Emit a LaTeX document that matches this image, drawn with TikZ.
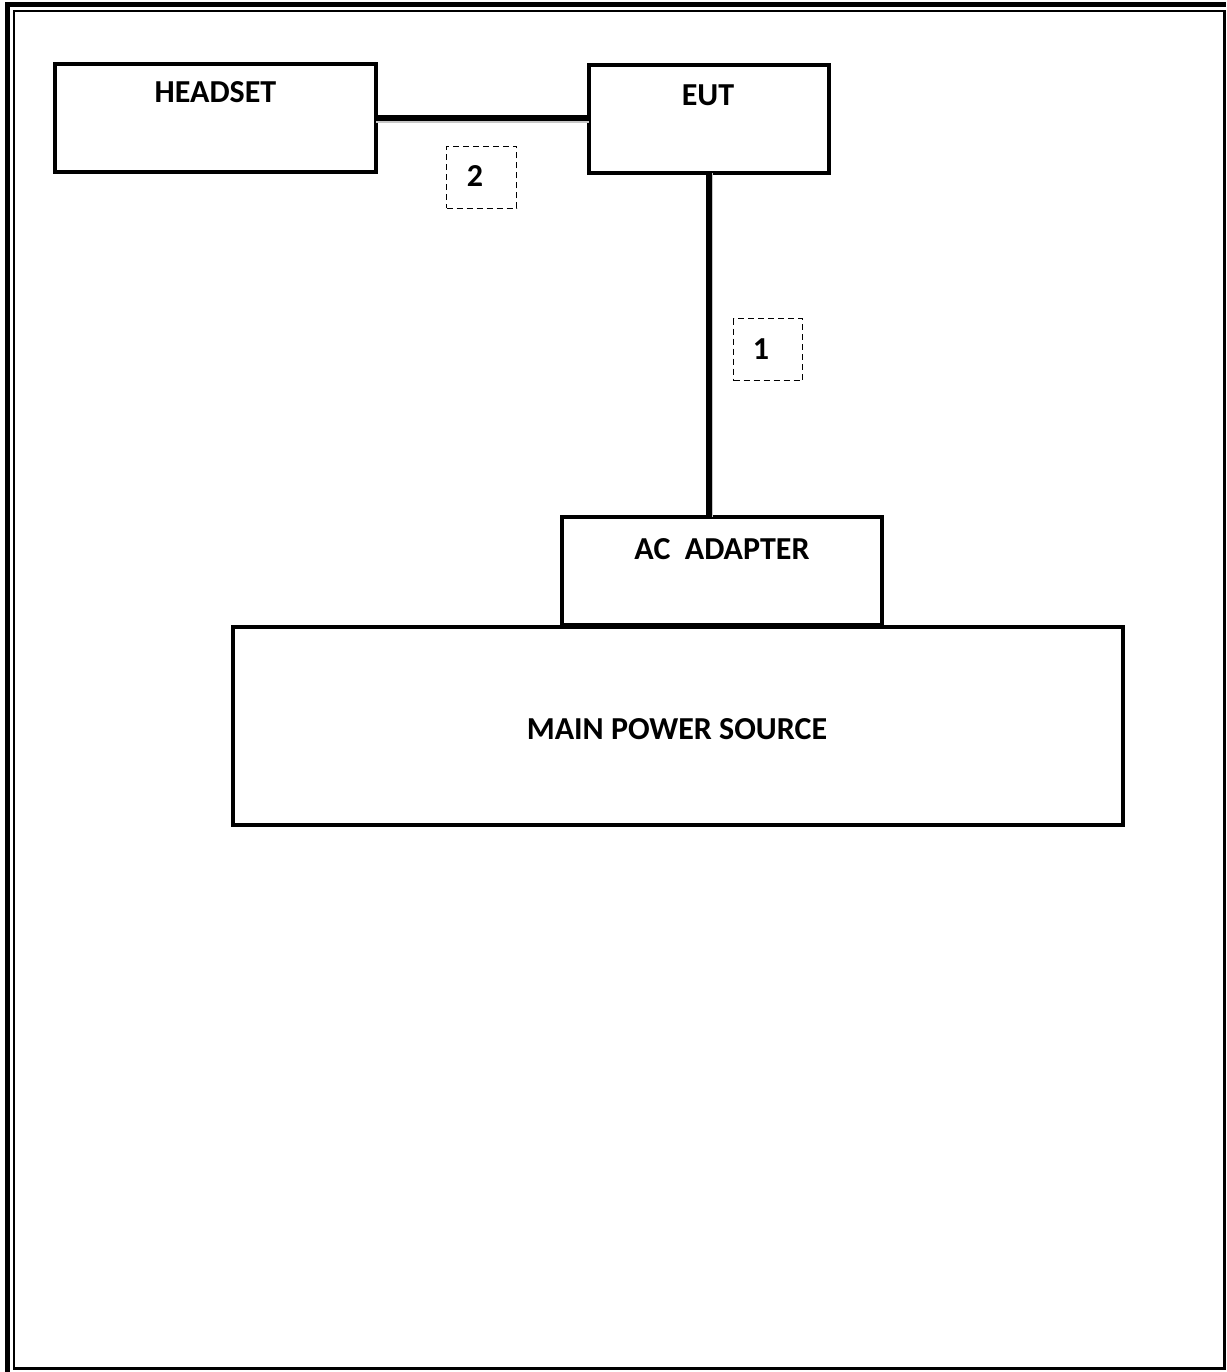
\documentclass[tikz,border=0pt]{standalone}
\usepackage{fontspec}
\setmainfont{Carlito}
\begin{document}
\begin{tikzpicture}[x=1pt,y=-1pt,
  box/.style={draw=black,line width=4.5pt,fill=white,inner sep=0pt,outer sep=0pt},
  lbl/.style={font=\fontsize{32}{38}\selectfont\bfseries,anchor=base,inner sep=0pt},
  tagbox/.style={draw=black,line width=1.4pt,dash pattern=on 6pt off 4pt,inner sep=0pt},
  cable/.style={line width=5.5pt,black},
  cableshadow/.style={line width=6pt,black!22}]
\useasboundingbox (0,0) rectangle (1226,1372);
% page border
\fill[black] (5,2) rectangle (10,1372);
\fill[black] (5,2) rectangle (1226,7);
\fill[black] (13,10) rectangle (15,1369);
\fill[black] (13,10) rectangle (1223,12);
\fill[black] (1223,10) rectangle (1226,1370);
\fill[black] (13,1367) rectangle (1226,1370);
% boxes
\node[box,minimum width=321pt,minimum height=108pt] (headset) at (215.5,118) {};
\node[box,minimum width=240pt,minimum height=108pt] (eut) at (709,119) {};
\node[box,minimum width=320pt,minimum height=108pt] (adapter) at (722,571) {};
\node[box,minimum width=890pt,minimum height=198pt] (mains) at (678,726) {};
% texts
\node[lbl] (theadset) at (215.5,103) {HEADSET};
\node[lbl] (teut) at (708,106) {EUT};
\node[lbl] (tadapter) at (722,559) {AC\ \ ADAPTER};
\node[lbl] (tmains) at (677,739) {MAIN POWER SOURCE};
% cables
\draw[cableshadow] ([yshift=-2.5pt]headset.east) -- ([yshift=-2.5pt]headset.east -| eut.west);
\draw[cable] (headset.east) -- (headset.east -| eut.west);
\draw[cableshadow] ([xshift=1pt]eut.south) -- ([xshift=1pt]eut.south |- adapter.north);
\draw[cable] (eut.south) -- (eut.south |- adapter.north);
% tags
\node[tagbox,minimum width=70pt,minimum height=62pt] (tag2) at (481.5,177.5) {};
\node[lbl] (t2) at (475,187) {2};
\node[tagbox,minimum width=69pt,minimum height=62pt] (tag1) at (768,349.5) {};
\node[lbl] (t1) at (761,359) {1};
\end{tikzpicture}
\end{document}
